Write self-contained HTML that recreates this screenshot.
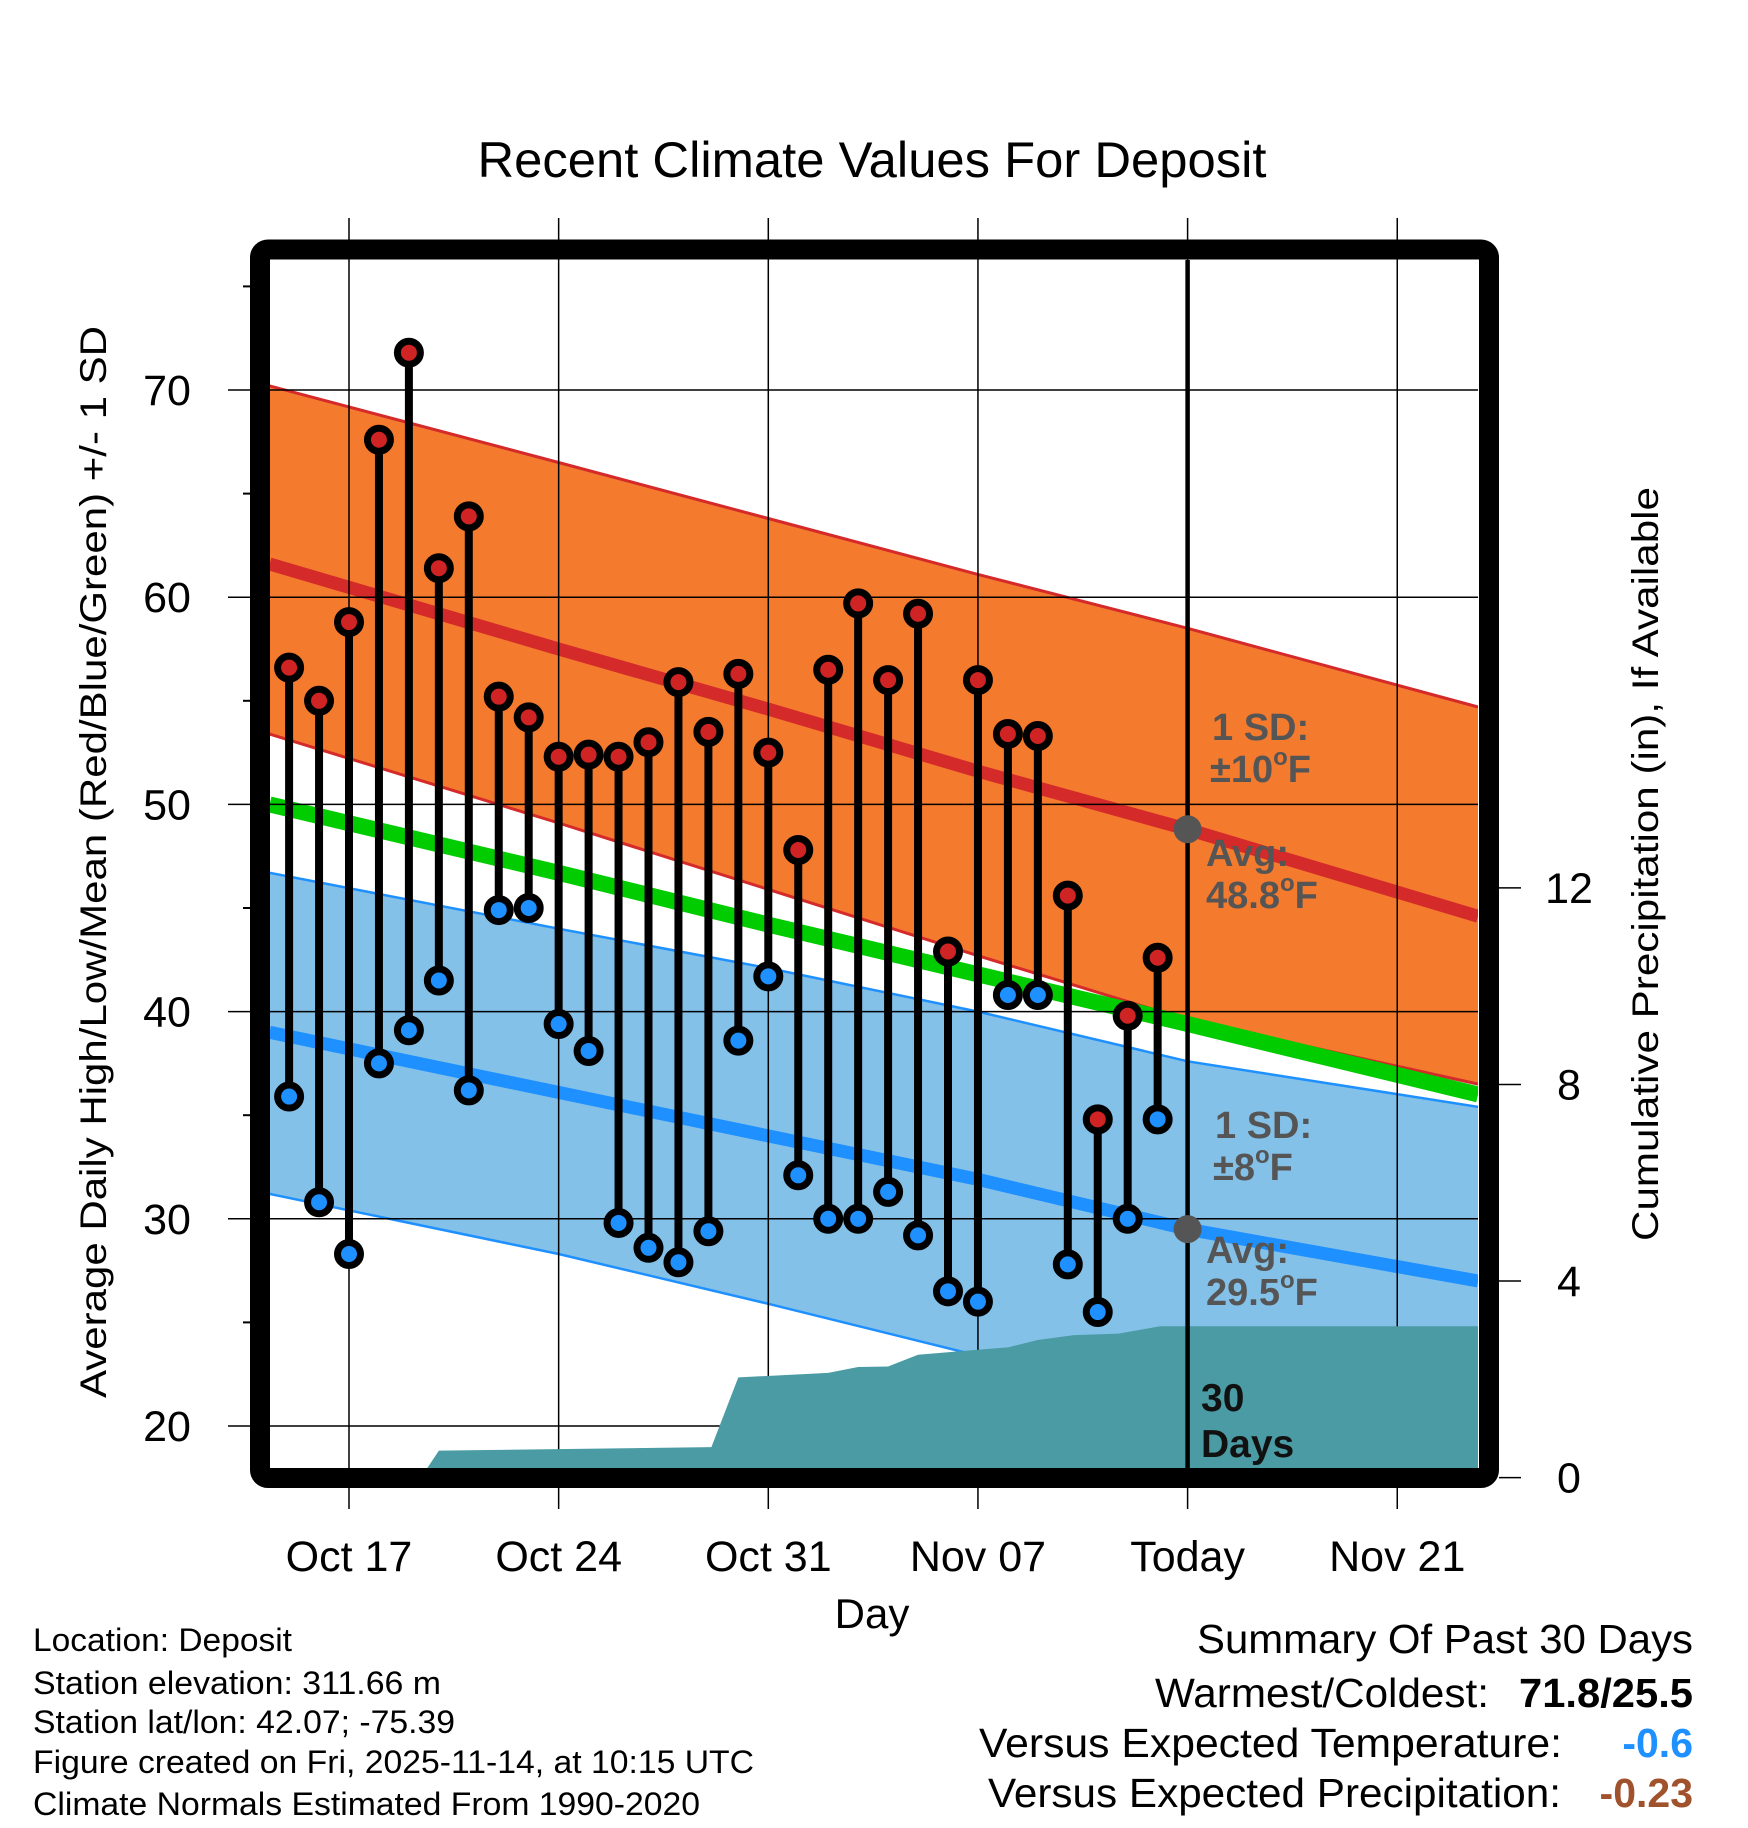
<!DOCTYPE html>
<html><head><meta charset="utf-8"><style>
html,body{margin:0;padding:0;background:#fff;}
svg{display:block;font-family:"Liberation Sans",Arial,sans-serif;}
</style></head><body>
<svg id="chart" width="1748" height="1828" viewBox="0 0 1748 1828" xmlns="http://www.w3.org/2000/svg">
<defs><clipPath id="plotclip"><rect x="270" y="260" width="1208" height="1208"/></clipPath></defs>
<text x="872" y="177" font-size="50" text-anchor="middle" textLength="789" lengthAdjust="spacingAndGlyphs">Recent Climate Values For Deposit</text>
<g id="fills" clip-path="url(#plotclip)"></g>
<g id="grid"></g>
<g id="precip" clip-path="url(#plotclip)"></g>
<g id="lines" clip-path="url(#plotclip)"></g>
<g id="annot" font-weight="bold" fill="#555" font-size="38">
<text x="1212" y="740">1 SD:</text>
<text x="1210" y="782">±10<tspan font-size="24" dy="-17">o</tspan><tspan dy="17">F</tspan></text>
<text x="1206" y="866">Avg:</text>
<text x="1206" y="908">48.8<tspan font-size="24" dy="-17">o</tspan><tspan dy="17">F</tspan></text>
<text x="1215" y="1138">1 SD:</text>
<text x="1213" y="1180">±8<tspan font-size="24" dy="-17">o</tspan><tspan dy="17">F</tspan></text>
<text x="1206" y="1263">Avg:</text>
<text x="1206" y="1305">29.5<tspan font-size="24" dy="-17">o</tspan><tspan dy="17">F</tspan></text>
</g>
<text font-weight="bold" font-size="39" fill="#111"><tspan x="1201" y="1411">30</tspan><tspan x="1201" y="1457">Days</tspan></text>
<g id="points"></g>
<rect x="260" y="249.5" width="1229" height="1228.5" rx="8" fill="none" stroke="#000" stroke-width="20"/>
<g id="axes" font-size="43"></g>
<text transform="translate(106,862) rotate(-90)" font-size="37" text-anchor="middle" textLength="1072" lengthAdjust="spacingAndGlyphs">Average Daily High/Low/Mean (Red/Blue/Green) +/- 1 SD</text>
<text transform="translate(1658,864) rotate(-90)" font-size="37" text-anchor="middle" textLength="754" lengthAdjust="spacingAndGlyphs">Cumulative Precipitation (in), If Available</text>
<text x="872" y="1628" font-size="42" text-anchor="middle">Day</text>
<g font-size="32">
<text x="33" y="1651" textLength="259" lengthAdjust="spacingAndGlyphs">Location: Deposit</text>
<text x="33" y="1694" textLength="408" lengthAdjust="spacingAndGlyphs">Station elevation: 311.66 m</text>
<text x="33" y="1733" textLength="422" lengthAdjust="spacingAndGlyphs">Station lat/lon: 42.07; -75.39</text>
<text x="33" y="1773" textLength="721" lengthAdjust="spacingAndGlyphs">Figure created on Fri, 2025-11-14, at 10:15 UTC</text>
<text x="33" y="1815" textLength="667" lengthAdjust="spacingAndGlyphs">Climate Normals Estimated From 1990-2020</text>
</g>
<g font-size="41">
<text x="1197" y="1653" textLength="496" lengthAdjust="spacingAndGlyphs">Summary Of Past 30 Days</text>
<text x="1155" y="1707" textLength="334" lengthAdjust="spacingAndGlyphs">Warmest/Coldest:</text>
<text x="1519" y="1707" font-weight="bold" textLength="174" lengthAdjust="spacingAndGlyphs">71.8/25.5</text>
<text x="979" y="1757" textLength="583" lengthAdjust="spacingAndGlyphs">Versus Expected Temperature:</text>
<text x="1693" y="1757" text-anchor="end" font-weight="bold" fill="#1e90ff">-0.6</text>
<text x="988" y="1807" textLength="573" lengthAdjust="spacingAndGlyphs">Versus Expected Precipitation:</text>
<text x="1693" y="1807" text-anchor="end" font-weight="bold" fill="#a0522d">-0.23</text>
</g>
</svg>
<script>
// days are offsets from Oct 17
const obsDays = [-2,-1,0,1,2,3,4,5,6,7,8,9,10,11,12,13,14,15,16,17,18,19,20,21,22,23,24,25,26,27];
const highs = [56.6,55.0,58.8,67.6,71.8,61.4,63.9,55.2,54.2,52.3,52.4,52.3,53.0,55.9,53.5,56.3,52.5,47.8,56.5,59.7,56.0,59.2,42.9,56.0,53.4,53.3,45.6,34.8,39.8,42.6];
const lows = [35.9,30.8,28.3,37.5,39.1,41.5,36.2,44.9,45.0,39.4,38.1,29.8,28.6,27.9,29.4,38.6,41.7,32.1,30.0,30.0,31.3,29.2,26.5,26.0,40.8,40.8,27.8,25.5,30.0,34.8];
const normDays = [-2.65,7,14,21,28,37.7];
const normHigh = [61.6,57.5,54.6,51.6,48.8,44.6];
const normHighUpper = [70.2,66.5,63.8,61.1,58.5,54.7];
const normHighLower = [53.4,49.1,45.9,42.7,39.6,36.5];
const normMean = [50.0,46.7,44.2,41.8,39.4,36.0];
const normLow = [39.0,36.1,34.0,31.9,29.5,27.0];
const normLowUpper = [46.7,44.0,42.1,40.0,37.6,35.4];
const normLowLower = [31.2,28.3,25.9,23.4,21.0,18.6];
const precipDays = [-2.65,2.4,3,12.1,13,16,17,18,19,21,22,23,24.2,25.7,27.1,37.7];
const precipVals = [0,0,0.55,0.62,2.04,2.13,2.25,2.26,2.5,2.6,2.65,2.8,2.9,2.93,3.08,3.08];
const xTickDays = [0,7,14,21,28,35];
const xTickLabels = ['Oct 17','Oct 24','Oct 31','Nov 07','Today','Nov 21'];
const yTicks = [20,30,40,50,60,70];
const yMinor = [25,35,45,55,65,75];
const pTicks = [0,4,8,12];
const todayDay = 28;
const todayHigh = 48.8, todayLow = 29.5;

const NS='http://www.w3.org/2000/svg';
const X = d => 349 + d*29.95;
const Y = t => 390 + (70-t)*20.72;
const YP = p => 1477.6 - p*49.14;
function mk(tag, attrs, parent){const e=document.createElementNS(NS,tag);for(const k in attrs)e.setAttribute(k,attrs[k]);parent.appendChild(e);return e;}
const fills=document.getElementById('fills'), grid=document.getElementById('grid'), precip=document.getElementById('precip'), lines=document.getElementById('lines'), pts=document.getElementById('points'), axes=document.getElementById('axes');
function linePts(vals){return normDays.map((d,i)=>X(d).toFixed(1)+','+Y(vals[i]).toFixed(1));}
function band(up,lo){return 'M'+linePts(up).join('L')+'L'+linePts(lo).reverse().join('L')+'Z';}
let e;
e=mk('path',{d:band(normHighUpper,normHighLower),fill:'#f47a2e'},fills);


e=mk('path',{d:band(normLowUpper,normLowLower),fill:'#84c1e8'},fills);


[[normHighUpper,'#d42a2a',3],[normHighLower,'#d42a2a',3],[normLowUpper,'#1e90ff',2.5],[normLowLower,'#1e90ff',2.5]].forEach(([v,c,w])=>{
  e=mk('polyline',{points:linePts(v).join(' '),fill:'none',stroke:c,'stroke-width':w},fills);
  
  
});
e=mk('polyline',{points:linePts(normMean).join(' '),fill:'none',stroke:'#00cc00','stroke-width':16},fills);


e=mk('polyline',{points:linePts(normHigh).join(' '),fill:'none',stroke:'#d42a2a','stroke-width':13},fills);


e=mk('polyline',{points:linePts(normLow).join(' '),fill:'none',stroke:'#1e90ff','stroke-width':13},fills);


yTicks.forEach(t=>{
  e=mk('line',{x1:228,x2:1478,y1:Y(t),y2:Y(t),stroke:'#000','stroke-width':1.5},grid);
  
  
});
xTickDays.forEach(d=>{
  e=mk('line',{x1:X(d),x2:X(d),y1:218,y2:1509,stroke:'#000','stroke-width':1.5},grid);
  
  
});
let pd='M'+X(precipDays[0])+','+YP(0);
precipDays.forEach((d,i)=>{pd+='L'+X(d).toFixed(1)+','+YP(precipVals[i]).toFixed(1);});
pd+='L'+X(precipDays[precipDays.length-1])+','+YP(0)+'Z';
e=mk('path',{d:pd,fill:'#4a9ba3'},precip);


e=mk('line',{x1:X(todayDay),x2:X(todayDay),y1:260,y2:1468,stroke:'#000','stroke-width':4.5},lines);


e=mk('circle',{cx:X(todayDay),cy:Y(todayHigh),r:14,fill:'#555'},lines);


e=mk('circle',{cx:X(todayDay),cy:Y(todayLow),r:14,fill:'#555'},lines);


obsDays.forEach((d,i)=>{
  e=mk('line',{x1:X(d),x2:X(d),y1:Y(highs[i]),y2:Y(lows[i]),stroke:'#000','stroke-width':8},pts);
  
  
  e=mk('circle',{cx:X(d),cy:Y(highs[i]),r:11.5,fill:'#d02424',stroke:'#000','stroke-width':7},pts);
  
  
  e=mk('circle',{cx:X(d),cy:Y(lows[i]),r:11.5,fill:'#1e90ff',stroke:'#000','stroke-width':7},pts);
  
  
});
yTicks.forEach(t=>{
  e=mk('text',{x:167,y:Y(t)+15,'text-anchor':'middle'},axes);e.textContent=t;
  
  
});
yMinor.forEach(t=>{
  e=mk('line',{x1:243,x2:250,y1:Y(t),y2:Y(t),stroke:'#000','stroke-width':2},axes);
  
  
});
pTicks.forEach(p=>{
  e=mk('line',{x1:1499,x2:1521,y1:YP(p),y2:YP(p),stroke:'#000','stroke-width':1.5},axes);
  
  
  e=mk('text',{x:1569,y:YP(p)+15,'text-anchor':'middle'},axes);e.textContent=p;
  
  
});
xTickDays.forEach((d,i)=>{
  e=mk('text',{x:X(d),y:1571,'text-anchor':'middle'},axes);e.textContent=xTickLabels[i];
  
  
});
</script>
</body></html>
